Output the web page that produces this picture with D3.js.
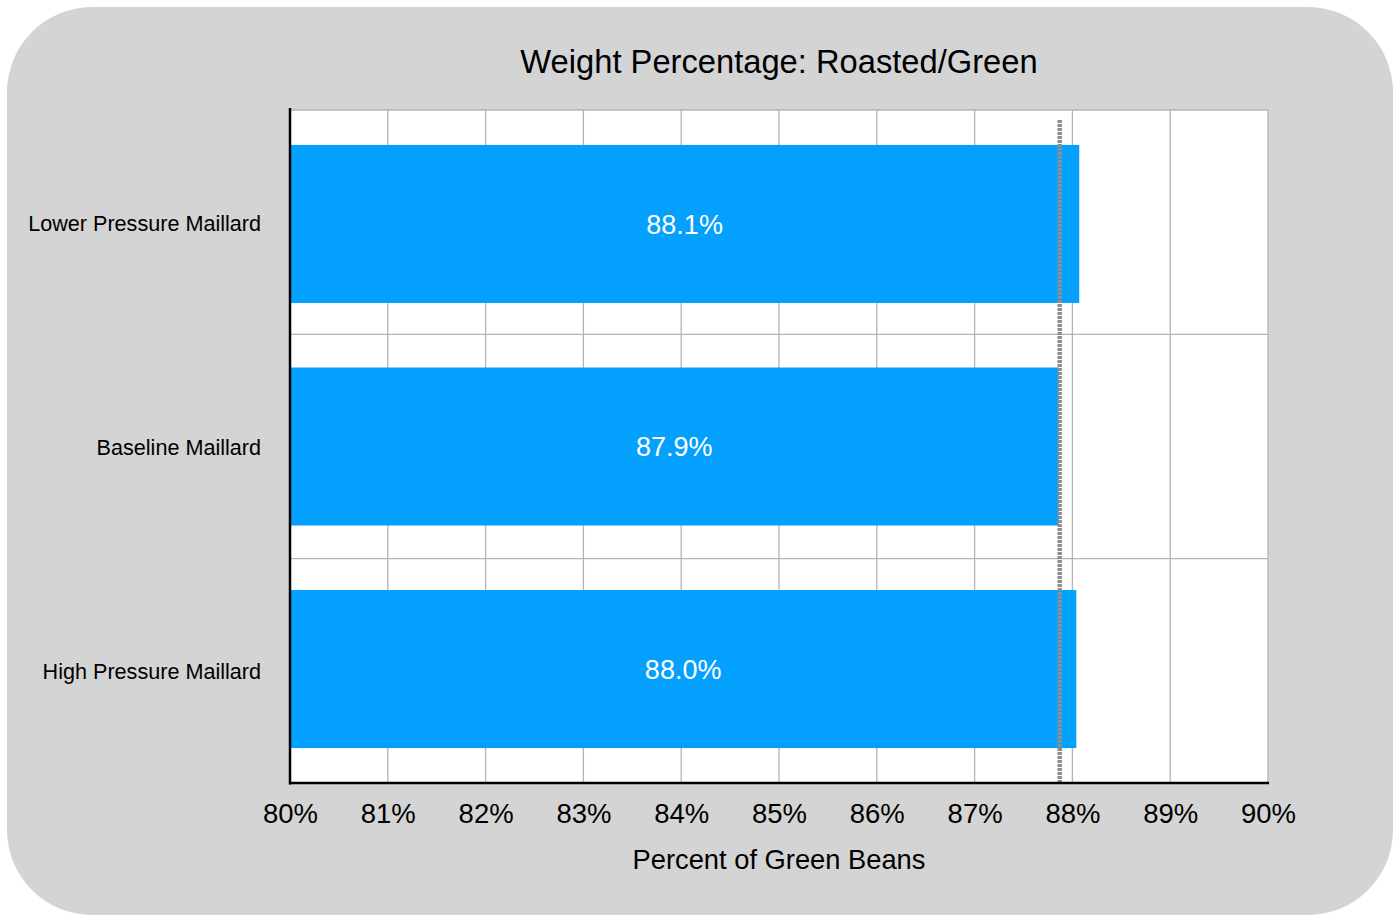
<!DOCTYPE html>
<html>
<head>
<meta charset="utf-8">
<script src="https://cdn.jsdelivr.net/npm/d3@7"></script>
<style>
  html,body{margin:0;padding:0;background:#fff;}
  svg{display:block;font-family:"Liberation Sans",Arial,Helvetica,sans-serif;}
</style>
</head>
<body>
<svg id="chart" width="1400" height="922"></svg>
<script>
// ── Data ──
const categories=['Lower Pressure Maillard','Baseline Maillard','High Pressure Maillard'];
const values=[88.07,87.86,88.04];
const valueLabels=['88.1%','87.9%','88.0%'];
const refValue=87.87; // grey dotted reference line
const xTicks=[80,81,82,83,84,85,86,87,88,89,90];

const W=1400,H=922;
const M={left:290,right:132,top:110,bottom:139};
const iw=W-M.left-M.right,ih=H-M.top-M.bottom;

const svg=d3.select('#chart');

// rounded grey card
svg.append('rect').attr('x',7).attr('y',7).attr('width',W-14).attr('height',H-14)
  .attr('rx',85).attr('ry',85).attr('fill','#d4d4d4');

const x=d3.scaleLinear().domain([80,90]).range([0,iw]);
const y=d3.scaleBand().domain(categories).range([0,ih]).paddingInner(0.29).paddingOuter(0.157);
const yOuter=d3.scaleBand().domain(categories).range([0,ih]);

const g=svg.append('g').attr('transform',`translate(${M.left},${M.top})`);

g.append('rect').attr('width',iw).attr('height',ih).attr('fill','#fff');

// vertical grid
g.append('g').selectAll('line').data(xTicks).join('line')
  .attr('x1',d=>x(d)).attr('x2',d=>x(d)).attr('y1',0).attr('y2',ih)
  .attr('stroke','#b4b4b4').attr('stroke-width',1.3);
// horizontal band boundaries + top
g.append('g').selectAll('line').data(categories).join('line')
  .attr('x1',0).attr('x2',iw)
  .attr('y1',d=>yOuter(d)).attr('y2',d=>yOuter(d))
  .attr('stroke','#b4b4b4').attr('stroke-width',1.3);

// bars
g.append('g').selectAll('rect').data(categories).join('rect')
  .attr('x',0).attr('y',d=>y(d))
  .attr('width',(d,i)=>x(values[i])).attr('height',y.bandwidth())
  .attr('fill','#04a0fe');

// reference line
g.append('line')
  .attr('x1',x(refValue)).attr('x2',x(refValue)).attr('y1',10).attr('y2',ih)
  .attr('stroke','#8e8e8e').attr('stroke-width',4.5)
  .attr('stroke-dasharray','3 1');

// bar value labels
g.append('g').selectAll('text').data(categories).join('text')
  .attr('x',(d,i)=>x(values[i])/2).attr('y',d=>y(d)+y.bandwidth()/2)
  .attr('dy','0.36em').attr('text-anchor','middle')
  .attr('fill','#fff').attr('font-size',27)
  .text((d,i)=>valueLabels[i]);

// axes lines
g.append('line').attr('x1',0).attr('x2',0).attr('y1',-2).attr('y2',ih+1.5)
  .attr('stroke','#000').attr('stroke-width',2.5);
g.append('line').attr('x1',-1).attr('x2',iw+1).attr('y1',ih).attr('y2',ih)
  .attr('stroke','#000').attr('stroke-width',2.5);

// x axis tick labels
const xAxis=d3.axisBottom(x).tickValues(xTicks).tickSize(0).tickPadding(20).tickFormat(d=>d+'%');
const xa=g.append('g').attr('transform',`translate(0,${ih})`).call(xAxis);
xa.select('.domain').remove();
xa.selectAll('text').attr('font-size',27.5).attr('fill','#000').attr('font-family','"Liberation Sans",Arial,sans-serif');

// y axis labels
const yAxis=d3.axisLeft(yOuter).tickSize(0).tickPadding(29);
const ya=g.append('g').call(yAxis);
ya.select('.domain').remove();
ya.selectAll('text').attr('font-size',21.6).attr('dy','0.4em').attr('fill','#000').attr('font-family','"Liberation Sans",Arial,sans-serif');

// titles
svg.append('text').attr('x',M.left+iw/2).attr('y',73).attr('text-anchor','middle')
  .attr('font-size',32.7).attr('fill','#000').text('Weight Percentage: Roasted/Green');
svg.append('text').attr('x',M.left+iw/2).attr('y',869).attr('text-anchor','middle')
  .attr('font-size',27.3).attr('fill','#000').text('Percent of Green Beans');
</script>
</body>
</html>
